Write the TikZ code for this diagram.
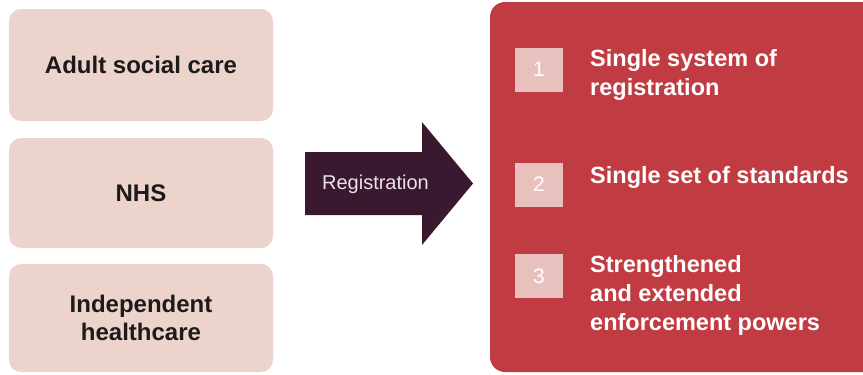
\documentclass[tikz,border=0pt]{standalone}
\usepackage{fontspec}
\setmainfont{Liberation Sans}

\definecolor{boxpink}{RGB}{236,211,204}
\definecolor{panelred}{RGB}{193,60,66}
\definecolor{arrowplum}{RGB}{58,24,48}
\definecolor{numpink}{RGB}{232,192,190}
\definecolor{reggrey}{RGB}{232,228,232}
\definecolor{labelink}{RGB}{30,26,26}

\tikzset{
  sourcebox/.style={fill=boxpink, rounded corners=12pt, minimum width=264pt, minimum height=110pt,
    align=center, text=labelink, font=\fontsize{24}{28}\selectfont\bfseries},
  numbox/.style={fill=numpink, minimum width=48pt, minimum height=44pt, inner sep=0pt,
    text=white, font=\fontsize{21}{21}\selectfont},
  itemtext/.style={anchor=west, inner sep=0pt, align=left, text=white,
    font=\fontsize{23.5}{29}\selectfont\bfseries},
}

\begin{document}
\begin{tikzpicture}[x=1pt, y=-1pt]
    \useasboundingbox (0,0) rectangle (863,375);
    \clip (0,0) rectangle (863,375);

    %Source boxes
    \node[sourcebox, minimum height=112pt] (asc) at (141,65) {Adult social care};
    \node[sourcebox] (nhs) at (141,193) {NHS};
    \node[sourcebox, minimum height=108pt] (ind) at (141,318) {Independent\\healthcare};

    %Registration arrow
    \fill[arrowplum] (305,152) -- (422,152) -- (422,122) -- (473,183.5) -- (422,245) -- (422,215) -- (305,215) -- cycle;
    \node[text=reggrey, font=\fontsize{20}{20}\selectfont] (reg) at (375.5,184) {Registration};

    %Outcome panel
    \fill[panelred, rounded corners=15pt] (490,2) rectangle (890,372);
    \node[numbox] (num1) at (539,69.5) {1};
    \node[numbox] (num2) at (539,184.5) {2};
    \node[numbox] (num3) at (539,276) {3};
    \node[itemtext] (item1) at (590,75) {Single system of\\registration};
    \node[itemtext] (item2) at (590,177.5) {Single set of standards};
    \node[itemtext] (item3) at (590,295.5) {Strengthened\\and extended\\enforcement powers};
\end{tikzpicture}
\end{document}
